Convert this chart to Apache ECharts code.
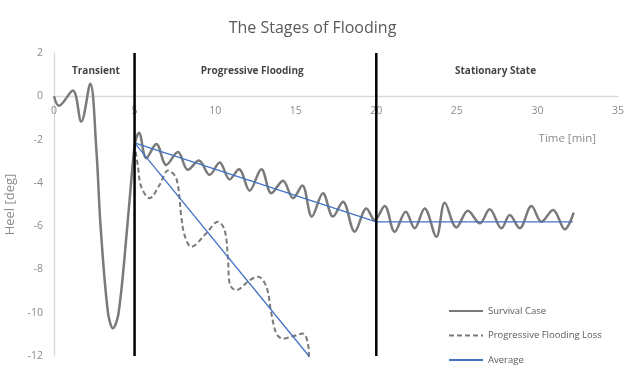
<!DOCTYPE html>
<html>
<head>
<meta charset="utf-8">
<script src="https://cdn.jsdelivr.net/npm/echarts@6/dist/echarts.min.js"></script>
<style>
html,body{margin:0;padding:0;background:#fff;}
#c{width:625px;height:365px;}
</style>
</head>
<body>
<div id="c"></div>
<script>
// Survival Case (time [min], heel [deg]) read at peaks/troughs
var survival = [
  [0,0],[0.3,-0.44],[1.17,0.27],[1.69,-1.17],[2.25,0.58],[2.63,-2.48],[2.89,-6],[3.35,-10],
  [3.66,-10.72],[4.01,-10],[4.55,-6],[4.9,-3],[5.05,-2.1],[5.27,-1.68],[5.73,-2.86],[6.35,-2.2],
  [6.97,-3.17],[7.69,-2.58],[8.31,-3.4],[8.99,-2.97],[9.66,-3.63],[10.28,-3.06],[10.9,-3.84],
  [11.48,-3.37],[12.14,-4.36],[12.87,-3.37],[13.49,-4.48],[14.21,-3.9],[14.83,-4.71],[15.41,-4.12],
  [16.0,-5.56],[16.69,-4.48],[17.31,-5.56],[17.93,-4.87],[18.66,-6.26],[19.39,-5.18],[19.9,-5.72],
  [20.52,-5.07],[21.14,-6.26],[21.83,-5.33],[22.38,-6.1],[23.0,-5.18],[23.73,-6.49],[24.25,-4.92],
  [24.97,-6.06],[25.69,-5.29],[26.42,-5.87],[27.04,-5.22],[27.77,-6.1],[28.28,-5.49],[28.9,-6.1],
  [29.63,-5.07],[30.25,-5.8],[30.97,-5.25],[31.7,-6.15],[32.25,-5.38]
];
// Progressive Flooding Loss
var floodingLoss = [
  [5.0,-2.2],[5.21,-3.25],[5.41,-4.17],[5.93,-4.71],[6.55,-4.1],[7.07,-3.43],[7.59,-3.79],
  [7.9,-5.55],[8.1,-6.41],[8.52,-6.95],[9.45,-6.33],[10.17,-5.8],[10.59,-6.18],[10.8,-7.57],
  [10.9,-8.65],[11.3,-8.96],[12.14,-8.5],[12.66,-8.34],[13.18,-8.8],[13.49,-10.04],[13.8,-10.96],
  [14.2,-11.2],[14.83,-11.09],[15.45,-10.96],[15.76,-11.43],[15.82,-12.05]
];
// Average lines
var averageSurvival = [[5,-2.15],[20,-5.8],[32.2,-5.8]];
var averageLoss = [[5,-2.15],[15.82,-12]];
// Stage boundaries
var stageBounds = [5, 20];
var stageLabels = [
  {name:'Transient', value:[2.6,1.18]},
  {name:'Progressive Flooding', value:[12.3,1.18]},
  {name:'Stationary State', value:[27.4,1.15]}
];
var legendNames = ['Survival Case','Progressive Flooding Loss','Average'];
var xTicks = {min:0, max:35, interval:5};
var yTicks = {min:-12, max:2, interval:2};

var FONT = 'Open Sans';
var GRID = {left:54, right:7, top:53, bottom:9};
var plotH = 365 - GRID.top - GRID.bottom;
// distance from the bottom of the plot to the zero line (x axis crosses at heel 0)
var zeroOffset = plotH * (0 - yTicks.min) / (yTicks.max - yTicks.min);

var chart = echarts.init(document.getElementById('c'), null, {renderer:'canvas'});
var series = [
  {name:legendNames[0], type:'line', data:survival, smooth:0.35, symbol:'none',
   lineStyle:{color:'#7a7a7a', width:2.5}, itemStyle:{color:'#7a7a7a'}, z:3},
  {name:legendNames[1], type:'line', data:floodingLoss, smooth:0.35, symbol:'none',
   lineStyle:{color:'#7a7a7a', width:2, type:[5,3]}, itemStyle:{color:'#7a7a7a'}, z:3},
  {name:legendNames[2], type:'line', data:averageSurvival, symbol:'none',
   lineStyle:{color:'#4472C4', width:1.3}, itemStyle:{color:'#4472C4'}, z:4},
  {name:'Average2', type:'line', data:averageLoss, symbol:'none',
   lineStyle:{color:'#4472C4', width:1.3}, itemStyle:{color:'#4472C4'}, z:4}
];
stageBounds.forEach(function(b, i){
  series.push({name:'bound'+i, type:'line', data:[[b,yTicks.max],[b,yTicks.min]], symbol:'none',
    lineStyle:{color:'#000', width:2.5}, z:5, silent:true});
});
series.push({name:'stages', type:'scatter', data:stageLabels, symbolSize:0, silent:true,
  label:{show:true, position:'inside', formatter:'{b}', color:'#111', fontFamily:FONT,
  fontWeight:'bold', fontSize:10}});

var legendTops = [306, 330.5, 355];
var legends = legendNames.map(function(n, i){
  return {orient:'horizontal', left:448, top:legendTops[i], padding:0, itemWidth:34, itemHeight:12,
    data:[n], itemStyle:{opacity:0, borderWidth:0},
    textStyle:{fontFamily:FONT, fontSize:9.5, color:'#595959'}};
});

chart.setOption({
  animation:false,
  title:{text:'The Stages of Flooding', left:'center', top:15,
    textStyle:{fontFamily:FONT, fontWeight:'normal', fontSize:16, color:'#595959'}},
  grid:{left:GRID.left, right:GRID.right, top:GRID.top, bottom:GRID.bottom,
    containLabel:false, outerBoundsMode:'none'},
  legend:legends,
  xAxis:{type:'value', min:xTicks.min, max:xTicks.max, interval:xTicks.interval,
    position:'bottom', offset:-zeroOffset,
    name:'Time [min]', nameLocation:'end', nameGap:0,
    nameTextStyle:{color:'#8c8c8c', fontFamily:FONT, fontSize:11.5,
      align:'right', verticalAlign:'top', padding:[36,22,0,0]},
    axisLine:{onZero:false, lineStyle:{color:'#d9d9d9', width:1.3}},
    axisTick:{show:false}, splitLine:{show:false},
    axisLabel:{color:'#8c8c8c', fontFamily:FONT, fontSize:10.5, margin:9}},
  yAxis:{type:'value', min:yTicks.min, max:yTicks.max, interval:yTicks.interval,
    name:'Heel [deg]', nameLocation:'middle', nameGap:31, nameRotate:90,
    nameTextStyle:{color:'#8c8c8c', fontFamily:FONT, fontSize:13},
    axisLine:{show:true, onZero:false, lineStyle:{color:'#d9d9d9', width:1.3}},
    axisTick:{show:false}, splitLine:{show:false},
    axisLabel:{color:'#8c8c8c', fontFamily:FONT, fontSize:10.5, margin:11}},
  series:series
});
</script>
</body>
</html>
